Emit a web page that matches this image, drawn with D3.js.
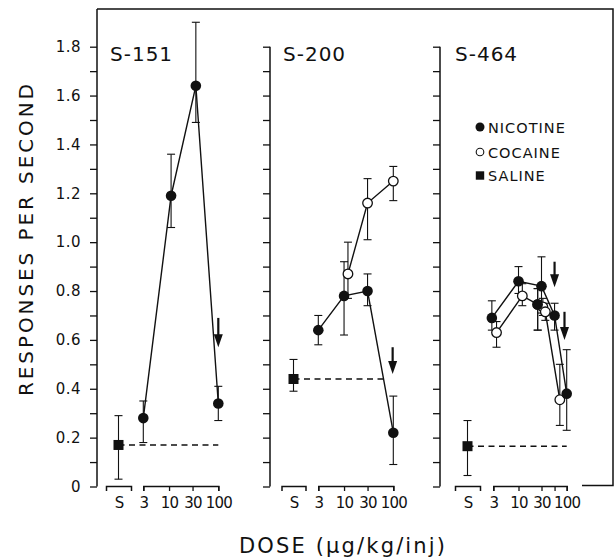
<!DOCTYPE html>
<html><head><meta charset="utf-8">
<script src="https://cdn.jsdelivr.net/npm/d3@7/dist/d3.min.js"></script>
<style>
body{margin:0;background:#fff}
svg{display:block}
text{font-family:"DejaVu Sans",sans-serif;fill:#111}
</style>
</head><body>
<svg id="c" width="616" height="560"></svg>
<script>
// ---------- data ----------
const panelNames = ["S-151", "S-200", "S-464"];
const yMinorTicks = [0,0.1,0.2,0.3,0.4,0.5,0.6,0.7,0.8,0.9,1.0,1.1,1.2,1.3,1.4,1.5,1.6,1.7,1.8];
const yLabelTicks = [0,0.2,0.4,0.6,0.8,1.0,1.2,1.4,1.6,1.8];
const yTickLabels = ["0","0.2","0.4","0.6","0.8","1.0","1.2","1.4","1.6","1.8"];
const doseTickLabels = [3, 10, 30, 100];
const doseTicksP3 = [3, 10, 30, 56, 100];
const legendNames = ["NICOTINE", "COCAINE", "SALINE"];

// S-151
const p1NicDose = [3, 11, 35, 100];
const p1NicVal  = [0.28, 1.19, 1.64, 0.34];
const p1NicLo   = [0.18, 1.06, 1.49, 0.27];
const p1NicHi   = [0.35, 1.36, 1.90, 0.41];
const p1Saline  = [0.17, 0.03, 0.29];   // mean, lo, hi
const p1SalineEnd = 100;
const p1Arrows = [[100, 0.69, 0.57]];   // dose, from, to

// S-200
const p2NicDose = [3, 10, 30, 100];
const p2NicVal  = [0.64, 0.78, 0.80, 0.22];
const p2NicLo   = [0.58, 0.62, 0.74, 0.09];
const p2NicHi   = [0.70, 0.92, 0.87, 0.37];
const p2CocDose = [12, 30, 100];
const p2CocVal  = [0.87, 1.16, 1.25];
const p2CocLo   = [0.77, 1.01, 1.17];
const p2CocHi   = [1.00, 1.26, 1.31];
const p2Saline  = [0.44, 0.39, 0.52];
const p2SalineEnd = 70;
const p2Arrows = [[97, 0.57, 0.46]];

// S-464
const p3NicDose = [2.8, 10, 30, 56, 100];
const p3NicVal  = [0.69, 0.84, 0.82, 0.70, 0.38];
const p3NicLo   = [0.64, 0.79, 0.71, 0.64, 0.23];
const p3NicHi   = [0.76, 0.90, 0.94, 0.75, 0.56];
const p3NicExtraDose = [25];
const p3NicExtraVal  = [0.745];
const p3NicExtraLo   = [0.64];
const p3NicExtraHi   = [0.81];
const p3CocDose = [3.5, 12, 25, 32, 36, 72];
const p3CocVal  = [0.63, 0.78, 0.745, 0.735, 0.715, 0.355];
const p3CocLo   = [0.57, 0.74, 0.64, 0.70, 0.68, 0.25];
const p3CocHi   = [0.675, 0.83, 0.81, 0.77, 0.75, 0.50];
const p3Saline  = [0.165, 0.045, 0.27];
const p3SalineEnd = 100;
const p3Arrows = [[56, 0.92, 0.815], [90, 0.715, 0.60]];

// ---------- layout ----------
const svg = d3.select("#c");
const y = d3.scaleLinear().domain([0, 1.8]).range([486.5, 46.7]);
const baseY = 486;
const layout = [
  {axisX: 97,  sRange: [106, 131], dRange: [143.3, 218.3], title: 110},
  {axisX: 270, sRange: [281.5, 305.5], dRange: [318.3, 393.3], title: 283},
  {axisX: 440, sRange: [455, 480], dRange: [493.3, 566.7], title: 455}
];
const zip = (d, v, lo, hi) => d.map((x, i) => ({d: x, v: v[i], lo: lo[i], hi: hi[i]}));
const panels = [
  {nic: zip(p1NicDose, p1NicVal, p1NicLo, p1NicHi), coc: [], extra: [],
   sal: p1Saline, salEnd: p1SalineEnd, arrows: p1Arrows, ticks: doseTickLabels},
  {nic: zip(p2NicDose, p2NicVal, p2NicLo, p2NicHi), coc: zip(p2CocDose, p2CocVal, p2CocLo, p2CocHi), extra: [],
   sal: p2Saline, salEnd: p2SalineEnd, arrows: p2Arrows, ticks: doseTickLabels},
  {nic: zip(p3NicDose, p3NicVal, p3NicLo, p3NicHi), coc: zip(p3CocDose, p3CocVal, p3CocLo, p3CocHi),
   extra: zip(p3NicExtraDose, p3NicExtraVal, p3NicExtraLo, p3NicExtraHi),
   sal: p3Saline, salEnd: p3SalineEnd, arrows: p3Arrows, ticks: doseTicksP3}
];

const ink = "#111";

// frame
svg.append("path")
  .attr("d", `M${layout[0].axisX},9 H613 V485.5 H582`)
  .attr("fill", "none").attr("stroke", ink).attr("stroke-width", 1.5);

panels.forEach((P, pi) => {
  const L = layout[pi];
  const g = svg.append("g");
  const x = d3.scaleLog().domain([3, 100]).range(L.dRange);
  const s = d3.scalePoint().domain(["S"]).range(L.sRange).padding(0.5);

  g.append("line").attr("x1", L.axisX).attr("x2", L.axisX)
    .attr("y1", pi === 0 ? 9 : y(1.8)).attr("y2", y(0))
    .attr("stroke", ink).attr("stroke-width", 1.5);
  const ya = g.append("g").attr("transform", `translate(${L.axisX},0)`)
    .call(d3.axisLeft(y).tickValues(yMinorTicks).tickSize(7).tickFormat(""));
  ya.select(".domain").remove();
  ya.selectAll("line").attr("stroke", ink).attr("stroke-width", 1.3);
  if (pi === 0) {
    const yl = g.append("g").attr("transform", `translate(${L.axisX},0)`)
      .call(d3.axisLeft(y).tickValues(yLabelTicks).tickSize(0).tickPadding(16)
        .tickFormat((d, i) => yTickLabels[i]));
    yl.select(".domain").remove();
    yl.selectAll("text").attr("font-size", 15).attr("font-family", "DejaVu Sans")
      .attr("fill", ink).attr("letter-spacing", 0.5);
  }

  const xs = g.append("g").attr("transform", `translate(0,${baseY})`)
    .call(d3.axisBottom(s).tickSizeInner(0).tickSizeOuter(5).tickPadding(11));
  const xd = g.append("g").attr("transform", `translate(0,${baseY})`)
    .call(d3.axisBottom(x).tickValues(P.ticks).tickSizeInner(5).tickSizeOuter(5).tickPadding(6)
      .tickFormat(d => doseTickLabels.includes(d) ? String(d) : ""));
  [xs, xd].forEach(a => {
    a.select(".domain").attr("stroke", ink).attr("stroke-width", 1.5);
    a.selectAll("line").attr("stroke", ink).attr("stroke-width", 1.3);
    a.selectAll("text").attr("font-size", 15).attr("font-family", "DejaVu Sans")
      .attr("letter-spacing", -0.8).attr("fill", ink);
  });

  g.append("text").attr("x", L.title).attr("y", 61).attr("font-size", 20)
    .attr("letter-spacing", 1).text(panelNames[pi]);

  g.append("line").attr("x1", s("S")).attr("x2", x(P.salEnd))
    .attr("y1", y(P.sal[0])).attr("y2", y(P.sal[0]))
    .attr("stroke", ink).attr("stroke-width", 1.4).attr("stroke-dasharray", "6,4.5");

  const line = d3.line().x(d => x(d.d)).y(d => y(d.v));
  [P.nic, P.coc].forEach(ser => {
    if (ser.length) g.append("path").attr("d", line(ser)).attr("fill", "none")
      .attr("stroke", ink).attr("stroke-width", 1.4);
  });

  const eb = (cx, lo, hi) => {
    g.append("line").attr("x1", cx).attr("x2", cx).attr("y1", y(lo)).attr("y2", y(hi))
      .attr("stroke", ink).attr("stroke-width", 1.1);
    [lo, hi].forEach(v => g.append("line").attr("x1", cx - 4).attr("x2", cx + 4)
      .attr("y1", y(v)).attr("y2", y(v)).attr("stroke", ink).attr("stroke-width", 1.1));
  };
  eb(s("S"), P.sal[1], P.sal[2]);
  [...P.nic, ...P.coc, ...P.extra].forEach(d => eb(x(d.d), d.lo, d.hi));

  P.coc.forEach(d => g.append("circle").attr("cx", x(d.d)).attr("cy", y(d.v)).attr("r", 4.8)
    .attr("fill", "#fff").attr("stroke", ink).attr("stroke-width", 1.3));
  [...P.nic, ...P.extra].forEach(d => g.append("circle").attr("cx", x(d.d)).attr("cy", y(d.v))
    .attr("r", 5.3).attr("fill", ink));
  g.append("rect").attr("x", s("S") - 5).attr("y", y(P.sal[0]) - 5)
    .attr("width", 10).attr("height", 10).attr("fill", ink);

  P.arrows.forEach(([d, from, to]) => {
    const ax = x(d), y0 = y(from), y1 = y(to);
    g.append("line").attr("x1", ax).attr("x2", ax).attr("y1", y0).attr("y2", y1 - 8)
      .attr("stroke", ink).attr("stroke-width", 2.2);
    g.append("path").attr("d", `M${ax - 4.5},${y1 - 13} L${ax + 4.5},${y1 - 13} L${ax},${y1} Z`)
      .attr("fill", ink);
  });
});

// legend
const legY = [127, 152, 175.5];
const legX = 480;
const lg = svg.append("g");
lg.append("circle").attr("cx", legX).attr("cy", legY[0]).attr("r", 4.5).attr("fill", ink);
lg.append("circle").attr("cx", legX).attr("cy", legY[1]).attr("r", 3.8).attr("fill", "#fff")
  .attr("stroke", ink).attr("stroke-width", 1.1);
lg.append("rect").attr("x", legX - 4.2).attr("y", legY[2] - 4.2).attr("width", 8.4).attr("height", 8.4).attr("fill", ink);
legendNames.forEach((n, i) => lg.append("text").attr("x", legX + 8).attr("y", legY[i] + 5.5)
  .attr("font-size", 14.5).attr("letter-spacing", 1).text(n));

// axis titles
svg.append("text").attr("transform", "translate(33,240) rotate(-90)")
  .attr("text-anchor", "middle").attr("font-size", 20)
  .attr("textLength", 312).attr("lengthAdjust", "spacing")
  .text("RESPONSES PER SECOND");
svg.append("text").attr("x", 342).attr("y", 553)
  .attr("text-anchor", "middle").attr("font-size", 21)
  .attr("textLength", 206).attr("lengthAdjust", "spacing")
  .text("DOSE (μg/kg/inj)");
</script>
</body></html>
